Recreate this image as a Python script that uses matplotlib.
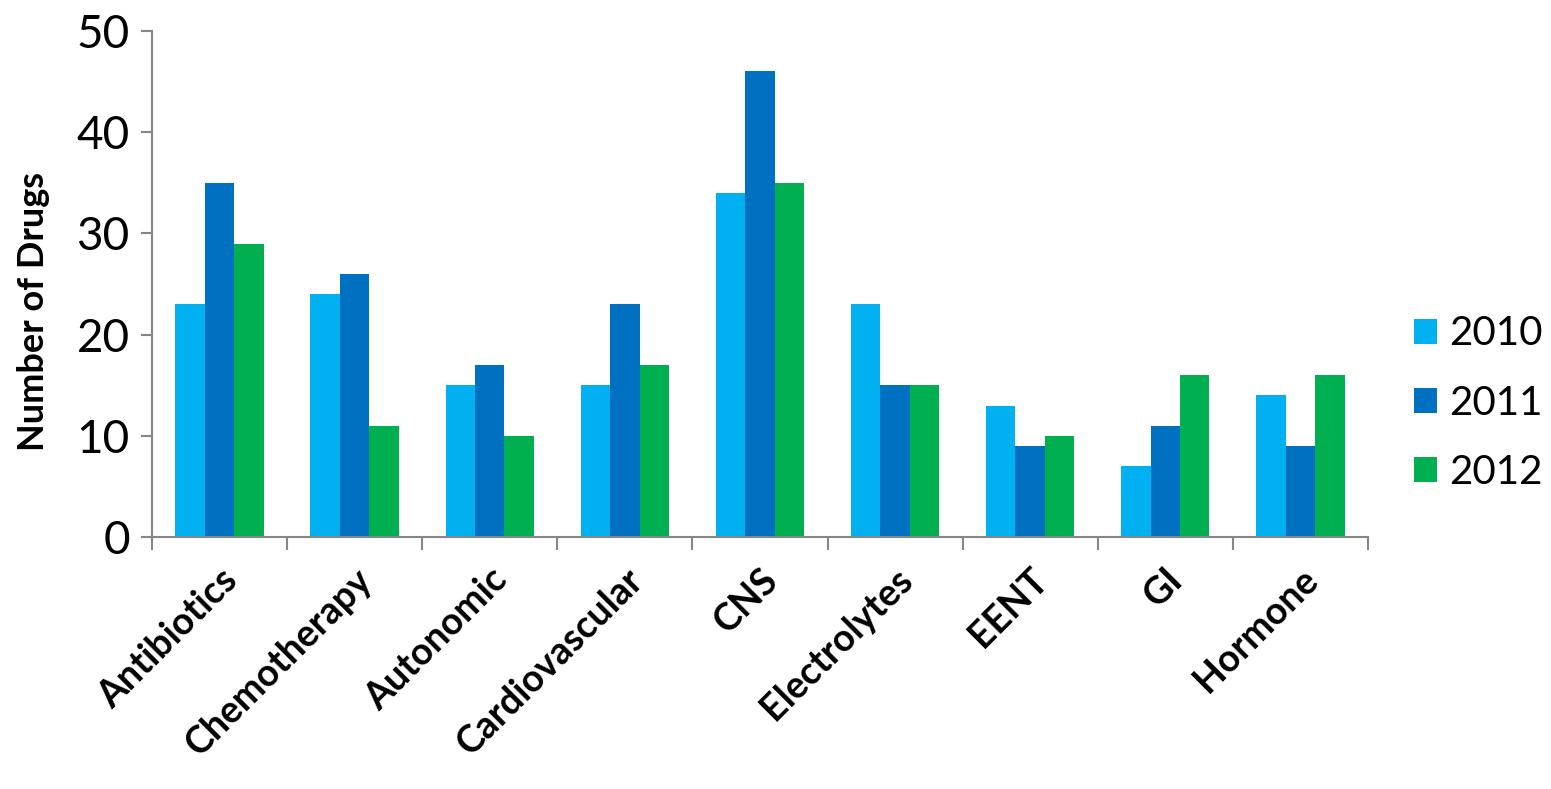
import numpy as np
import matplotlib
matplotlib.use("Agg")
import matplotlib.pyplot as plt

categories = ["Antibiotics", "Chemotherapy", "Autonomic", "Cardiovascular", "CNS",
              "Electrolytes", "EENT", "GI", "Hormone"]
years = ["2010", "2011", "2012"]
drugs_2010 = [23, 24, 15, 15, 34, 23, 13, 7, 14]
drugs_2011 = [35, 26, 17, 23, 46, 15, 9, 11, 9]
drugs_2012 = [29, 11, 10, 17, 35, 15, 10, 16, 16]
colors = ["#00B0F0", "#0070C0", "#00B050"]

plt.rcParams['font.family'] = ['Lato', 'DejaVu Sans']

fig = plt.figure(figsize=(15.51, 7.89), dpi=100)
ax = fig.add_axes([0.098, 0.319, 0.784, 0.642])

x = np.arange(len(categories))
width = 0.218
for i, (vals, yr) in enumerate(zip([drugs_2010, drugs_2011, drugs_2012], years)):
    ax.bar(x + (i - 1) * width, vals, width, color=colors[i], label=yr)

ax.set_xlim(-0.5, len(categories) - 0.5)
ax.set_ylim(0, 50)
ax.set_yticks(range(0, 51, 10))
ax.tick_params(axis='y', labelsize=33, length=8, color='#868686', width=1.5, pad=8)

ax.set_xticks(x)
ax.set_xticklabels(categories, rotation=45, ha='right', rotation_mode='anchor',
                   fontsize=27, fontweight='bold')
ax.tick_params(axis='x', which='major', length=0, pad=18)
ax.set_xticks(np.arange(-0.5, len(categories), 1), minor=True)
ax.tick_params(axis='x', which='minor', length=9, color='#868686', width=1.5)

for side in ['top', 'right']:
    ax.spines[side].set_visible(False)
for side in ['left', 'bottom']:
    ax.spines[side].set_color('#868686')
    ax.spines[side].set_linewidth(1.5)

ax.set_ylabel("Number of Drugs", fontsize=26, fontweight='bold')
ax.yaxis.set_label_coords(-0.084, 0.445)

ax.legend(loc='center left', bbox_to_anchor=(1.008, 0.265), frameon=False,
          fontsize=29, handlelength=0.57, handleheight=0.57, handletextpad=0.3,
          labelspacing=0.8)

fig.savefig("out.png", dpi=100)
